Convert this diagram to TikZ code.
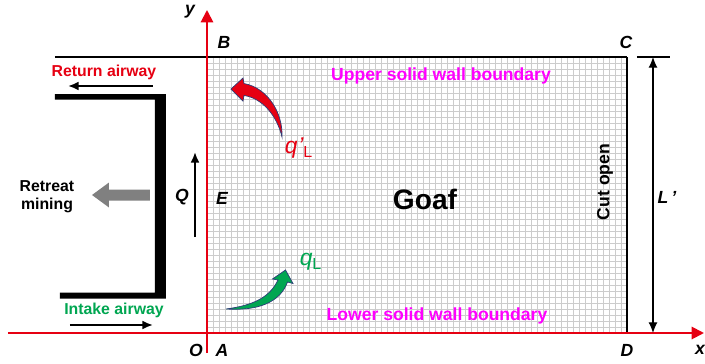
\documentclass[tikz,border=0pt]{standalone}
\usepackage{fontspec}
\setmainfont{Liberation Sans}
\usetikzlibrary{arrows.meta}
\definecolor{axisred}{RGB}{230,0,18}
\definecolor{airgreen}{RGB}{0,166,81}
\definecolor{wallpink}{RGB}{255,0,255}
\definecolor{rimblue}{RGB}{45,60,120}
\begin{document}
\begin{tikzpicture}[>={Latex[length=6pt,width=5pt]},line width=0.6pt,
  font=\bfseries\fontsize{9}{10}\selectfont,
  lbl/.style={font=\bfseries\itshape\fontsize{10}{12}\selectfont},
  wall/.style={text=wallpink,font=\bfseries\fontsize{10}{12}\selectfont},
  axis/.style={axisred,line width=1.1pt,-{Triangle[length=7pt,width=7pt]}},
  flow/.style={draw=rimblue,line width=0.4pt}]
  \useasboundingbox (-4.14,-0.6) rectangle (9.96,6.66);

  % 采空区网格
  \draw[gray!40,line width=0.3pt] (0,0) grid[step=0.12] (8.401,5.521);

  \coordinate (O) at (0,0);
  \coordinate (B) at (0,5.52);
  \coordinate (C) at (8.4,5.52);
  \coordinate (D) at (8.4,0);
  \coordinate (T) at (-3.04,5.52);

  % 边界
  \draw[line width=1.1pt] (T) -- (C);
  \draw[line width=0.8pt] (C) -- (D);

  % 坐标轴
  \coordinate (xs) at (-3.98,0);
  \coordinate (xe) at (9.94,0);
  \coordinate (ys) at (0,-0.4);
  \coordinate (ye) at (0,6.46);
  \draw[axis] (xs) -- (xe);
  \draw[axis] (ys) -- (ye);

  % 工作面
  \fill (-3.04,4.78) -- (-0.82,4.78) -- (-0.82,0.69) -- (-2.94,0.69)
    -- (-2.94,0.81) -- (-1.04,0.81) -- (-1.04,4.67) -- (-3.04,4.67) -- cycle;

  % 回风巷
  \node[text=axisred] (ret) at (-2.06,5.22) {Return airway};
  \coordinate (r1) at (-1.08,4.94);
  \coordinate (r2) at (-2.78,4.94);
  \draw[->,line width=1.1pt] (r1) -- (r2);

  % 进风巷
  \node[text=airgreen] (intake) at (-1.86,0.46) {Intake airway};
  \coordinate (i1) at (-2.74,0.16);
  \coordinate (i2) at (-1.08,0.16);
  \draw[->,line width=1.1pt] (i1) -- (i2);

  % 后退式开采
  \node[align=center] (retreat) at (-3.2,2.72) {Retreat\\mining};
  \fill[black!50] (-1.14,2.87) -- (-1.96,2.87) -- (-1.96,3.01) -- (-2.3,2.76)
    -- (-1.96,2.51) -- (-1.96,2.65) -- (-1.14,2.65) -- cycle;

  % 风量 Q
  \coordinate (q1) at (-0.24,1.92);
  \coordinate (q2) at (-0.24,3.62);
  \draw[->,line width=1.1pt] (q1) -- (q2);
  \node[lbl] (Ql) at (-0.5,2.72) {Q};

  % L'
  \coordinate (l1) at (8.92,0);
  \coordinate (l2) at (8.92,5.52);
  \draw[<->] (l1) -- (l2);
  \draw[line width=1.1pt] (8.6,5.52) -- (9.26,5.52);
  \node[lbl] (Ll) at (9.2,2.72) {L\,'};

  % 漏风
  \draw[flow,fill=axisred] (0.48,4.88) -- (0.72,5.1) -- (0.74,4.99)
    .. controls (1.22,4.9) and (1.52,4.4) .. (1.5,3.92)
    .. controls (1.4,4.35) and (1.1,4.7) .. (0.74,4.75)
    -- (0.72,4.64) -- cycle;
  \node[text=axisred,font=\itshape\fontsize{13}{15}\selectfont] (qp) at (1.84,3.7)
    {q\kern0.5pt'\textsubscript{\upshape L}};
  \draw[flow,fill=airgreen] (1.57,1.26) -- (1.31,1.08) -- (1.42,1.06)
    .. controls (1.25,0.7) and (0.9,0.55) .. (0.38,0.48)
    .. controls (1.0,0.44) and (1.46,0.6) .. (1.61,1.02)
    -- (1.72,0.99) -- cycle;
  \node[text=airgreen,font=\itshape\fontsize{13}{15}\selectfont] (ql) at (2.08,1.42)
    {q\textsubscript{\upshape L}};

  \node[wall] (upper) at (4.68,5.14) {Upper solid wall boundary};
  \node[wall] (lower) at (4.6,0.34) {Lower solid wall boundary};
  \node[font=\bfseries\fontsize{16}{18}\selectfont] (goaf) at (4.36,2.68) {Goaf};
  \node[rotate=90,font=\bfseries\fontsize{10}{12}\selectfont] (cut) at (7.96,3.02) {Cut open};

  \node[lbl] (yl) at (-0.34,6.42) {y};
  \node[lbl] (xl) at (9.86,-0.34) {x};
  \node[lbl] (Ol) at (-0.22,-0.34) {O};
  \node[lbl] (Al) at (0.3,-0.34) {A};
  \node[lbl] (Bl) at (0.34,5.82) {B};
  \node[lbl] (Cl) at (8.38,5.82) {C};
  \node[lbl] (Dl) at (8.4,-0.34) {D};
  \node[lbl] (El) at (0.3,2.7) {E};
\end{tikzpicture}
\end{document}
